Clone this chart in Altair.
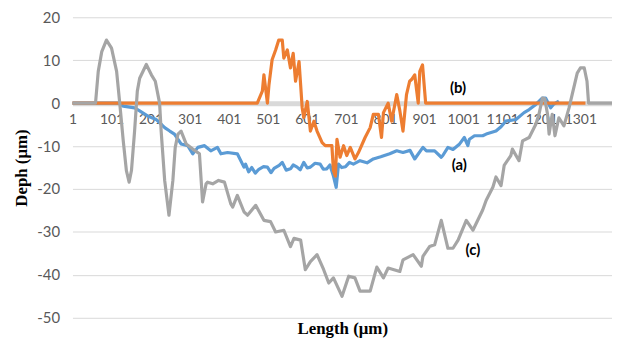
import altair as alt
import pandas as pd

# Series (a) - blue
a_n = [1, 120, 131, 160, 173, 194, 215, 237, 250, 262, 279, 296, 309, 322, 339, 355, 372, 381,
       398, 423, 440, 444, 452, 460, 469, 478, 490, 500, 509, 517, 530, 538, 548, 559, 566, 576,
       584, 593, 602, 610, 622, 635, 643, 652, 660, 669, 676, 682, 690, 700, 710, 720, 737, 755,
       771, 790, 813, 831, 847, 865, 877, 898, 907, 928, 945, 949, 962, 975, 992, 1004, 1013,
       1017, 1030, 1051, 1060, 1085, 1098, 1110, 1136, 1157, 1170, 1187, 1204, 1212, 1225, 1233,
       1246]
a_v = [0, 0, -0.7, -1.1, -1.8, -3.0, -3.8, -5.7, -6.5, -7.2, -9.5, -9.9, -11.8, -10.3, -9.9, -11.1,
       -10.3, -11.8, -11.5, -11.8, -14.9, -14.2, -16.0, -15.0, -16.3, -15.4, -14.8, -14.9, -16.2,
       -15.2, -14.5, -13.8, -15.6, -15.3, -14.4, -14.9, -15.5, -13.8, -15.1, -14.9, -14.0, -14.2,
       -15.4, -15.3, -14.4, -17.0, -19.6, -14.2, -15.0, -14.8, -13.8, -14.2, -13.4, -13.9, -13.0,
       -12.5, -11.8, -11.1, -11.5, -11.0, -13.0, -10.3, -11.1, -11.1, -12.6, -12.2, -10.3, -10.8,
       -9.5, -8.0, -9.9, -8.4, -7.6, -7.6, -7.2, -6.5, -5.5, -4.2, -3.8, -2.2, -1.5, -0.3, 1.2,
       1.2, -1.1, -0.2, 0.5]

# Series (b) - orange
b_n = [1, 474, 487, 491, 500, 504, 512, 521, 529, 538, 542, 551, 559, 566, 572, 581, 589, 593,
       602, 610, 619, 627, 640, 648, 665, 669, 674, 678, 686, 695, 703, 712, 724, 733, 750, 763,
       771, 784, 792, 797, 809, 818, 831, 839, 847, 856, 864, 869, 877, 886, 890, 897, 905, 1314]
b_v = [0, 0, 2.8, 6.6, 0, 4.3, 10.1, 12.4, 14.7, 14.7, 10.5, 12.4, 8.2, 11.6, 5.1, 9.7, -1.1, -3.4,
       0.4, -6.5, -4.2, -6.5, -9.2, -9.9, -9.9, -15.7, -17.0, -8.4, -12.6, -9.9, -12.2, -10.3,
       -13.0, -11.5, -8.0, -5.7, -2.6, -2.6, -8.0, -2.2, 0, -4.2, 2.0, -1.8, -6.5, 2.0, 5.1, 5.5,
       6.6, 0, 7.4, 8.9, 0, 0]

# Series (c) - grey
c_n = [1, 60, 67, 76, 88, 101, 114, 122, 131, 139, 146, 152, 160, 167, 173, 190, 203, 213, 224,
       228, 237, 248, 258, 264, 271, 279, 292, 309, 326, 334, 343, 347, 360, 375, 390, 406, 411,
       423, 440, 449, 470, 491, 508, 521, 542, 559, 568, 585, 597, 610, 627, 644, 657, 669, 691,
       708, 724, 737, 763, 780, 797, 809, 839, 847, 873, 894, 898, 915, 928, 945, 962, 975, 988,
       1009, 1026, 1051, 1060, 1077, 1085, 1098, 1106, 1123, 1127, 1144, 1153, 1170, 1187, 1195,
       1204, 1210, 1217, 1221, 1229, 1236, 1246, 1259, 1272, 1280, 1293, 1301, 1311, 1318, 1322,
       1382]
c_v = [0, 0, 7.4, 12.0, 14.7, 12.8, 7.4, 0, -8.8, -15.7, -18.4, -15.7, -6.5, 2.8, 5.8, 9.0, 6.6,
       5.1, 0, -6.5, -18.0, -26.1, -18.0, -10.3, -7.2, -6.5, -9.5, -10.7, -11.8, -23.0, -18.8,
       -18.4, -18.8, -18.0, -18.4, -23.4, -24.2, -21.5, -25.3, -26.1, -23.8, -27.3, -27.6, -30.0,
       -29.6, -33.4, -31.5, -31.9, -38.8, -36.9, -35.3, -38.8, -41.9, -40.7, -45.0, -40.3, -40.7,
       -43.8, -43.8, -38.2, -40.7, -38.4, -39.2, -36.5, -35.3, -38.0, -35.7, -33.4, -33.0, -27.3,
       -33.8, -33.8, -31.9, -27.3, -29.6, -24.9, -22.6, -19.6, -17.2, -19.2, -14.5, -12.2, -10.7,
       -13.4, -8.8, -8.0, -4.9, -2.6, 1.2, 1.0, -2.6, -7.2, -2.6, -7.6, -3.4, -5.3, -1.1, 2.0, 7.0,
       8.2, 8.2, 5.1, 0, 0]

lab_text = ["(b)", "(a)", "(c)"]
lab_n = [988, 991, 1026]
lab_v = [3.5, -14.5, -34.2]

x_ticks = list(range(1, 1302, 100))
y_ticks = [-50, -40, -30, -20, -10, 0, 10, 20]

W, H = 544, 303

df_a = pd.DataFrame({"n": a_n, "v": a_v})
df_b = pd.DataFrame({"n": b_n, "v": b_v})
df_c = pd.DataFrame({"n": c_n, "v": c_v})
df_l = pd.DataFrame({"n": lab_n, "v": lab_v, "t": lab_text})

xs = alt.Scale(domain=[1, 1382], nice=False, zero=False)
ys = alt.Scale(domain=[-50, 20], nice=False, zero=False)

x_axis = alt.Axis(values=x_ticks, grid=False, ticks=False, domain=True, domainColor="#d9d9d9",
                  domainWidth=5, offset=-H * 50 / 70, labelFont="Lato", labelFontSize=14,
                  labelColor="#595959", labelPadding=10, labelFlush=False, labelOverlap=False,
                  labelExpr="'' + datum.value",
                  title="Length (μm)", titleFont="Liberation Serif", titleFontSize=17,
                  titleFontWeight="bold", titleColor="black", titleY=227,
                  titleBaseline="middle", zindex=0)
y_axis = alt.Axis(values=y_ticks, grid=True, gridColor="#d9d9d9", gridWidth=1, ticks=False,
                  domain=False, labelFont="Lato", labelFontSize=15, labelColor="#595959",
                  labelPadding=13, labelExpr="'' + datum.value",
                  title="Deph (μm)", titleFont="Liberation Serif",
                  titleFontSize=17, titleFontWeight="bold", titleColor="black", titleX=-51,
                  titleY=H / 2, titleBaseline="middle", zindex=0)

X = alt.X("n:Q", scale=xs, axis=x_axis)
Y = alt.Y("v:Q", scale=ys, axis=y_axis)


def line(df, color):
    return alt.Chart(df).mark_line(color=color, strokeWidth=3.2, strokeJoin="round").encode(x=X, y=Y)


la = line(df_a, "#5B9BD5")
lb = line(df_b, "#ED7D31")
lc = line(df_c, "#A5A5A5")
txt = alt.Chart(df_l).mark_text(font="Lato", fontSize=15, fontWeight="bold", color="black").encode(
    x=X, y=Y, text="t:N",
)

chart = alt.layer(la, lb, lc, txt).properties(
    width=W, height=H,
    autosize=alt.AutoSizeParams(type="none"),
    padding={"left": 65, "top": 8, "right": 0, "bottom": 20},
).configure_view(stroke=None)

chart.save("out.html", embed_options={"renderer": "svg", "actions": False})
